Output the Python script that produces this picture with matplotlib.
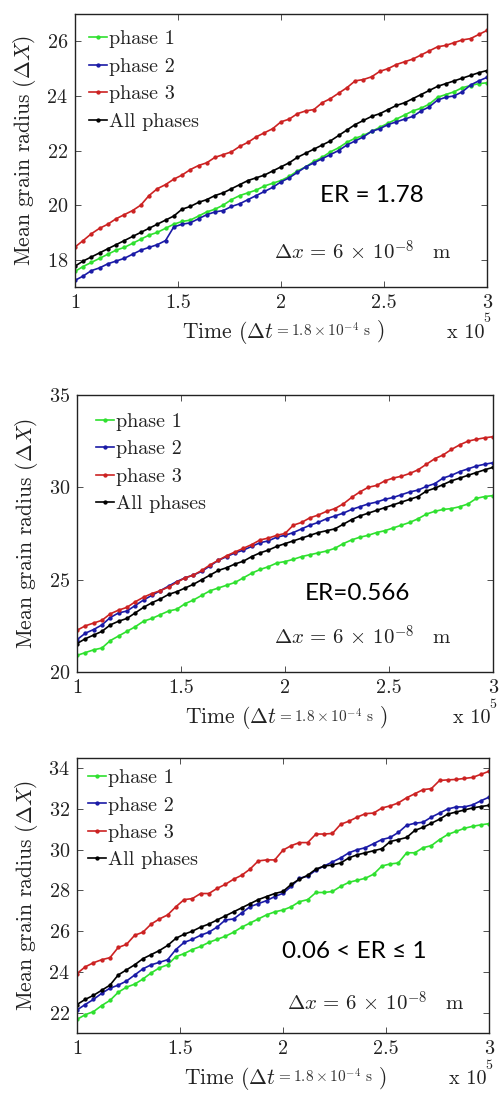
import matplotlib
matplotlib.use('Agg')
import matplotlib.pyplot as plt

plt.rcParams['font.family'] = ['cmr10', 'DejaVu Serif']
plt.rcParams['mathtext.fontset'] = 'cm'
plt.rcParams['axes.formatter.use_mathtext'] = True
plt.rcParams['axes.unicode_minus'] = False

# time axis (x 10^5 steps)
time = [1.00, 1.04, 1.08, 1.12, 1.16, 1.20, 1.24, 1.28, 1.32, 1.36,
        1.40, 1.44, 1.48, 1.52, 1.56, 1.60, 1.64, 1.68, 1.72, 1.76,
        1.80, 1.84, 1.88, 1.92, 1.96, 2.00, 2.04, 2.08, 2.12, 2.16,
        2.20, 2.24, 2.28, 2.32, 2.36, 2.40, 2.44, 2.48, 2.52, 2.56,
        2.60, 2.64, 2.68, 2.72, 2.76, 2.80, 2.84, 2.88, 2.92, 2.96, 3.00]

labels = ['phase 1', 'phase 2', 'phase 3', 'All phases']
colors = ['#2fe02f', '#1a1aa6', '#cc2222', '#000000']

# ---- panel 1 : ER = 1.78
p1_phase1 = [17.57, 17.75, 17.9, 18.05, 18.2, 18.35, 18.45, 18.6, 18.75, 18.9,
             19.0, 19.15, 19.3, 19.4, 19.45, 19.6, 19.75, 19.85, 20.0, 20.2,
             20.35, 20.45, 20.55, 20.7, 20.8, 20.9, 21.05, 21.25, 21.4, 21.6,
             21.75, 21.95, 22.1, 22.3, 22.45, 22.55, 22.7, 22.85, 23.0, 23.15,
             23.3, 23.45, 23.55, 23.7, 23.95, 24.05, 24.15, 24.3, 24.38, 24.45, 24.48]
p1_phase2 = [17.24, 17.4, 17.6, 17.7, 17.85, 17.95, 18.05, 18.2, 18.35, 18.45,
             18.55, 18.7, 19.2, 19.3, 19.35, 19.5, 19.65, 19.75, 19.8, 19.95,
             20.05, 20.2, 20.35, 20.5, 20.65, 20.85, 21.0, 21.2, 21.4, 21.55,
             21.7, 21.85, 22.0, 22.2, 22.35, 22.5, 22.7, 22.8, 22.95, 23.05,
             23.15, 23.25, 23.45, 23.6, 23.85, 23.95, 24.0, 24.15, 24.4, 24.55, 24.68]
p1_phase3 = [18.46, 18.7, 18.95, 19.15, 19.3, 19.5, 19.65, 19.8, 20.0, 20.35,
             20.6, 20.75, 20.95, 21.1, 21.3, 21.45, 21.55, 21.75, 21.85, 21.95,
             22.15, 22.3, 22.5, 22.65, 22.8, 23.05, 23.15, 23.35, 23.45, 23.5,
             23.75, 23.9, 24.1, 24.3, 24.55, 24.6, 24.7, 24.9, 25.0, 25.15,
             25.25, 25.35, 25.5, 25.65, 25.8, 25.85, 25.95, 26.05, 26.1, 26.25, 26.4]
p1_all = [17.76, 17.95, 18.1, 18.25, 18.4, 18.55, 18.7, 18.85, 19.0, 19.15,
          19.3, 19.45, 19.6, 19.85, 19.95, 20.1, 20.2, 20.35, 20.45, 20.6,
          20.75, 20.9, 21.0, 21.1, 21.25, 21.4, 21.55, 21.75, 21.9, 22.05,
          22.2, 22.35, 22.55, 22.75, 22.95, 23.1, 23.25, 23.35, 23.5, 23.65,
          23.75, 23.9, 24.05, 24.2, 24.35, 24.45, 24.55, 24.65, 24.75, 24.85, 24.93]

# ---- panel 2 : ER = 0.566
p2_phase1 = [20.9, 21.05, 21.2, 21.3, 21.7, 21.95, 22.2, 22.45, 22.75, 22.9,
             23.1, 23.3, 23.4, 23.7, 23.9, 24.15, 24.4, 24.55, 24.7, 24.85,
             25.1, 25.35, 25.55, 25.7, 25.9, 25.98, 26.1, 26.25, 26.35, 26.45,
             26.55, 26.7, 26.95, 27.15, 27.3, 27.4, 27.55, 27.65, 27.8, 27.95,
             28.1, 28.3, 28.55, 28.7, 28.8, 28.85, 28.95, 29.1, 29.4, 29.5, 29.55]
p2_phase2 = [21.75, 22.1, 22.3, 22.55, 22.95, 23.2, 23.3, 23.6, 23.9, 24.15,
             24.4, 24.65, 24.9, 25.1, 25.25, 25.45, 25.75, 26.05, 26.25, 26.45,
             26.6, 26.8, 27.0, 27.1, 27.3, 27.4, 27.55, 27.75, 27.95, 28.1,
             28.3, 28.45, 28.6, 28.8, 28.95, 29.1, 29.2, 29.35, 29.45, 29.6,
             29.75, 29.85, 30.05, 30.2, 30.5, 30.65, 30.85, 31.0, 31.15, 31.25, 31.33]
p2_phase3 = [22.26, 22.5, 22.65, 22.8, 23.15, 23.35, 23.5, 23.8, 24.05, 24.25,
             24.4, 24.6, 24.85, 25.1, 25.25, 25.5, 25.8, 26.05, 26.3, 26.5,
             26.7, 26.9, 27.15, 27.25, 27.4, 27.5, 27.95, 28.1, 28.35, 28.5,
             28.7, 28.85, 29.1, 29.45, 29.75, 30.0, 30.1, 30.35, 30.5, 30.6,
             30.75, 30.95, 31.25, 31.55, 31.75, 32.05, 32.3, 32.5, 32.6, 32.68, 32.74]
p2_all = [21.54, 21.8, 22.0, 22.2, 22.55, 22.75, 22.9, 23.2, 23.5, 23.75,
          23.95, 24.2, 24.35, 24.55, 24.75, 25.0, 25.25, 25.5, 25.65, 25.85,
          26.0, 26.25, 26.45, 26.6, 26.8, 26.95, 27.1, 27.25, 27.4, 27.55,
          27.65, 27.75, 28.0, 28.25, 28.45, 28.6, 28.75, 28.9, 29.05, 29.2,
          29.35, 29.5, 29.8, 29.95, 30.15, 30.35, 30.5, 30.65, 30.8, 30.95, 31.08]

# ---- panel 3 : 0.06 < ER <= 1
p3_phase1 = [21.67, 21.9, 22.05, 22.35, 22.6, 23.0, 23.25, 23.4, 23.65, 23.95,
             24.2, 24.35, 24.75, 24.9, 25.1, 25.25, 25.45, 25.6, 25.75, 25.95,
             26.2, 26.4, 26.6, 26.8, 26.95, 27.04, 27.2, 27.45, 27.55, 27.9,
             27.9, 27.95, 28.2, 28.4, 28.5, 28.6, 28.8, 29.2, 29.3, 29.35,
             29.85, 29.85, 30.1, 30.2, 30.5, 30.75, 30.9, 31.05, 31.15, 31.22, 31.28]
p3_phase2 = [22.13, 22.4, 22.65, 22.95, 23.2, 23.35, 23.55, 23.85, 24.15, 24.35,
             24.47, 24.6, 25.1, 25.45, 25.6, 25.8, 25.95, 26.2, 26.55, 26.6,
             26.9, 27.2, 27.35, 27.5, 27.7, 27.86, 28.2, 28.6, 28.7, 29.0,
             29.2, 29.4, 29.6, 29.85, 30.0, 30.1, 30.3, 30.5, 30.6, 30.85,
             31.2, 31.3, 31.35, 31.6, 31.8, 32.0, 32.1, 32.1, 32.2, 32.4, 32.58]
p3_phase3 = [23.92, 24.25, 24.45, 24.6, 24.7, 25.2, 25.35, 25.8, 25.95, 26.35,
             26.6, 26.8, 27.2, 27.55, 27.6, 27.85, 27.85, 28.1, 28.3, 28.55,
             28.75, 29.05, 29.45, 29.5, 29.5, 29.98, 30.2, 30.35, 30.35, 30.77,
             30.77, 30.8, 31.25, 31.4, 31.6, 31.77, 31.8, 32.05, 32.15, 32.3,
             32.55, 32.75, 32.95, 33.0, 33.4, 33.43, 33.45, 33.5, 33.55, 33.7, 33.85]
p3_all = [22.4, 22.65, 22.85, 23.1, 23.35, 23.85, 24.1, 24.35, 24.65, 24.85,
          25.05, 25.3, 25.65, 25.85, 26.0, 26.2, 26.35, 26.55, 26.75, 26.95,
          27.15, 27.35, 27.55, 27.7, 27.85, 27.95, 28.3, 28.55, 28.75, 29.05,
          29.2, 29.25, 29.35, 29.6, 29.75, 29.85, 29.95, 30.05, 30.4, 30.5,
          30.6, 30.95, 31.1, 31.3, 31.5, 31.75, 31.85, 31.95, 32.05, 32.12, 32.18]

x_ticks = [1, 1.5, 2, 2.5, 3]
x_ticklabels = ['1', '1.5', '2', '2.5', '3']


def draw_panel(ax, series, ylim, yticks, er_text, er_xy, dx_xy, leg_anchor):
    for y, lab, c in zip(series, labels, colors):
        ax.plot(time, y, '.-', color=c, lw=1.2, ms=4.2, label=lab)
    ax.set_xlim(1, 3)
    ax.set_ylim(*ylim)
    ax.set_xticks(x_ticks)
    ax.set_xticklabels(x_ticklabels)
    ax.set_yticks(yticks)
    ax.tick_params(direction='in', length=4, width=0.6, labelsize=14.5,
                   top=True, right=True, pad=5, colors='#333333',
                   labelcolor='#222222')
    for s in ax.spines.values():
        s.set_linewidth(1.0)
        s.set_color('#222222')
    ax.set_ylabel(r'Mean grain radius $(\Delta X)$', fontsize=15.5, color='#222222',
                  labelpad=6)
    leg = ax.legend(loc='upper left', bbox_to_anchor=leg_anchor, frameon=False,
                    fontsize=14.5, handlelength=0.9, handletextpad=0.1,
                    labelspacing=0.46, borderaxespad=0.0, borderpad=0.0)
    for t in leg.get_texts():
        t.set_color('#222222')
    ax.text(er_xy[0], er_xy[1], er_text, transform=ax.transAxes, ha='center',
            va='center', fontsize=17.5, family=['Lato', 'DejaVu Sans'])
    ax.text(dx_xy[0], dx_xy[1], r'$\Delta x\,=\,6\,\times\,10^{-8}\quad \mathrm{m}$',
            transform=ax.transAxes, ha='center', va='center', fontsize=15,
            color='#222222')
    # x label pieces: Time (Dt = small text )
    t1 = ax.text(0.26, -0.185, r'Time $(\Delta t$', transform=ax.transAxes,
                 fontsize=15.5, va='baseline', color='#222222')
    t2 = ax.annotate(r'$=1.8\times 10^{-4}\ \mathrm{s}$', xy=(1.0, 0.22),
                     xycoords=t1, va='bottom', fontsize=11, color='#333333')
    ax.annotate(r'$)$', xy=(1.0, 0.0), xycoords=t2, xytext=(4, -3.5),
                textcoords='offset points', va='bottom', fontsize=15.5,
                color='#222222')
    ax.text(0.995, -0.185, r'x 10', transform=ax.transAxes, ha='right',
            va='baseline', fontsize=14.5, color='#222222')
    ax.text(1.0, -0.13, '5', transform=ax.transAxes, ha='center',
            va='baseline', fontsize=10, color='#222222')


fig = plt.figure(figsize=(4.99, 10.95), dpi=100)
ax1 = fig.add_axes([0.150, 0.7379, 0.826, 0.2493])
ax2 = fig.add_axes([0.1543, 0.3863, 0.8337, 0.2530])
ax3 = fig.add_axes([0.1543, 0.0566, 0.8257, 0.2511])

draw_panel(ax1, [p1_phase1, p1_phase2, p1_phase3, p1_all], (17, 27),
           [18, 20, 22, 24, 26], 'ER = 1.78', (0.72, 0.337), (0.70, 0.128),
           (0.035, 0.94))
draw_panel(ax2, [p2_phase1, p2_phase2, p2_phase3, p2_all], (20, 35),
           [20, 25, 30, 35], 'ER=0.566', (0.673, 0.285), (0.688, 0.126),
           (0.045, 0.935))
draw_panel(ax3, [p3_phase1, p3_phase2, p3_phase3, p3_all], (21, 34.5),
           [22, 24, 26, 28, 30, 32, 34], r'0.06 < ER ≤ 1', (0.672, 0.298),
           (0.726, 0.109), (0.027, 0.96))

fig.savefig('out.png', dpi=100)
